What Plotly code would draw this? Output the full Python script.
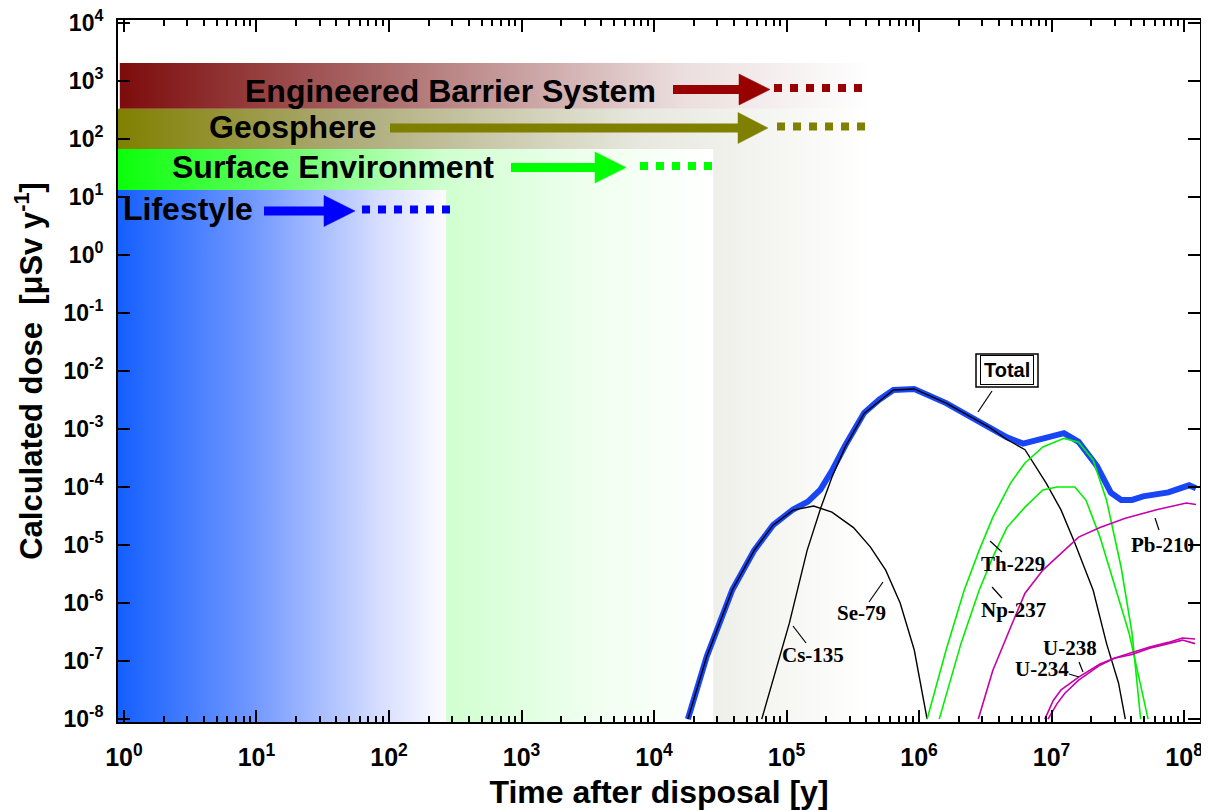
import plotly.graph_objects as go

# ---------------- data ----------------
total_t = [1.8e4, 2.5e4, 3.9e4, 5.7e4, 7.9e4, 1.12e5, 1.45e5, 1.8e5, 2.2e5, 2.77e5, 3.85e5,
           5.0e5, 6.4e5, 9.2e5, 1.6e6, 3.4e6, 4.6e6, 6.1e6, 8.6e6, 1.24e7, 1.6e7, 2.2e7,
           2.8e7, 3.35e7, 4.05e7, 4.9e7, 7.6e7, 1.09e8, 1.23e8]
total_d = [1e-8, 1.2e-7, 1.7e-6, 8.1e-6, 2.2e-5, 4.1e-5, 5.6e-5, 9.0e-5, 1.9e-4, 5.2e-4, 1.9e-3,
           3.2e-3, 4.7e-3, 4.9e-3, 2.8e-3, 1.07e-3, 7.2e-4, 5.6e-4, 6.9e-4, 8.5e-4, 6.0e-4, 2.3e-4,
           8.0e-5, 6.0e-5, 6.0e-5, 6.9e-5, 8.1e-5, 1.07e-4, 9.5e-5]

se79_t = [1.8e4, 2.5e4, 3.9e4, 5.7e4, 7.9e4, 1.12e5, 1.6e5, 2.2e5, 3.2e5, 4.3e5, 5.6e5,
          7.2e5, 9.2e5, 1.15e6]
se79_d = [1e-8, 1.2e-7, 1.7e-6, 8.1e-6, 2.2e-5, 4.0e-5, 4.7e-5, 3.7e-5, 2.0e-5, 9.2e-6, 3.7e-6,
          1.0e-6, 1.55e-7, 1.0e-8]

cs135_t = [6.5e4, 1.05e5, 1.43e5, 1.82e5, 2.2e5, 2.77e5, 3.85e5, 5.0e5, 6.4e5, 9.2e5, 1.6e6,
           3.4e6, 4.6e6, 6.3e6, 9.1e6, 1.18e7, 1.5e7, 2.06e7, 2.6e7, 3.2e7, 3.6e7]
cs135_d = [1e-8, 4.5e-7, 8.1e-6, 4.5e-5, 1.48e-4, 4.9e-4, 1.86e-3, 3.0e-3, 4.7e-3, 4.9e-3, 2.8e-3,
           1.07e-3, 6.6e-4, 4.4e-4, 1.17e-4, 4.0e-5, 1.07e-5, 1.66e-6, 2.0e-7, 4.2e-8, 1e-8]

th229_t = [1.15e6, 1.6e6, 2.19e6, 2.84e6, 3.6e6, 4.9e6, 6.3e6, 8.6e6, 1.24e7, 1.6e7, 2.06e7,
           2.6e7, 3.35e7, 4.05e7, 4.7e7]
th229_d = [1e-8, 1.55e-7, 1.66e-6, 8.1e-6, 3.0e-5, 1.17e-4, 2.6e-4, 4.9e-4, 6.9e-4, 5.9e-4, 2.9e-4,
           5.9e-5, 4.1e-6, 3.0e-7, 1e-8]

np237_t = [1.42e6, 2.07e6, 2.84e6, 3.6e6, 4.6e6, 6.3e6, 8.6e6, 1.1e7, 1.5e7, 1.82e7, 2.32e7,
           2.97e7, 3.85e7, 5.35e7]
np237_d = [1e-8, 2.0e-7, 1.66e-6, 6.2e-6, 2.0e-5, 4.5e-5, 8.9e-5, 1.0e-4, 1.0e-4, 5.9e-5, 1.37e-5,
           2.2e-6, 3.0e-7, 1e-8]

pb210_t = [2.8e6, 3.6e6, 4.9e6, 6.3e6, 8.6e6, 1.24e7, 1.6e7, 2.32e7, 3.6e7, 6.3e7, 1.04e8, 1.23e8]
pb210_d = [1e-8, 6.9e-8, 3.8e-7, 1.48e-6, 3.7e-6, 8.1e-6, 1.37e-5, 2.0e-5, 2.9e-5, 4.1e-5, 5.3e-5,
           5.0e-5]

u238_t = [8.9e6, 1.03e7, 1.18e7, 1.6e7, 2.32e7, 2.97e7, 4.05e7, 5.5e7, 7.6e7, 9.7e7, 1.21e8]
u238_d = [1e-8, 2.1e-8, 3.2e-8, 5.3e-8, 8.9e-8, 1.12e-7, 1.41e-7, 1.74e-7, 2.1e-7, 2.5e-7, 2.4e-7]

u234_t = [9.4e6, 1.1e7, 1.26e7, 1.6e7, 2.32e7, 2.97e7, 4.05e7, 5.5e7, 7.6e7, 9.7e7, 1.21e8]
u234_d = [1e-8, 1.85e-8, 2.8e-8, 4.7e-8, 8.5e-8, 1.12e-7, 1.3e-7, 1.67e-7, 2.0e-7, 2.3e-7, 2.0e-7]

# background bands: time extent and dose extent
band_names = ["Geosphere", "Engineered Barrier System", "Surface Environment", "Lifestyle"]
band_t_start = [0.89, 0.93, 0.89, 0.89]
band_t_end = [4.3e5, 4.3e5, 2.8e4, 270]
band_d_low = [1e-9, 330, 1e-9, 1e-9]
band_d_high = [330, 2040, 67, 13.2]

x_tickvals = [10 ** k for k in range(0, 9)]
x_ticktext = ["10<sup>%d</sup>" % k for k in range(0, 9)]
y_tickvals = [10 ** k for k in range(-8, 5)]
y_ticktext = ["10<sup>%d</sup>" % k for k in range(-8, 5)]

# ---------------- layout helpers ----------------
# the page body adds an 8px margin at top/left; the figure runs to the window's edges
OFF = 8
W, H = 1209 - OFF, 810 - OFF
PL, PR, PT, PB = 118, 1200, 20, 722          # plot box in window pixels
ML, MT = PL - OFF, PT - OFF
MR, MB = W - (PR - OFF), H - (PB - OFF)
PW, PH = PR - PL, PB - PT


def fx(p):
    return (p - PL) / PW


def fy(p):
    return (PB - p) / PH


band_scales = [
    [[0, "rgb(128,128,0)"], [0.3, "rgb(172,170,118)"], [0.7, "rgb(232,232,224)"], [1, "rgb(255,255,255)"]],
    [[0, "rgb(125,12,12)"], [0.35, "rgb(172,108,108)"], [0.75, "rgb(235,222,222)"], [1, "rgb(255,255,255)"]],
    [[0, "rgb(10,255,10)"], [0.25, "rgb(95,255,95)"], [0.55, "rgb(208,255,208)"], [0.8, "rgb(240,255,240)"], [1, "rgb(255,255,255)"]],
    [[0, "rgb(20,95,255)"], [0.4, "rgb(110,150,255)"], [0.8, "rgb(215,222,255)"], [1, "rgb(252,252,255)"]],
]

fig = go.Figure()

for i in range(len(band_names)):
    x0, x1 = band_t_start[i], band_t_end[i]
    y0, y1 = band_d_low[i], band_d_high[i]
    fig.add_trace(go.Scatter(
        x=[x0, x1, x1, x0, x0], y=[y0, y0, y1, y1, y0],
        mode="lines", fill="toself", line=dict(width=0),
        fillgradient=dict(type="horizontal", colorscale=band_scales[i]),
        hoverinfo="skip", showlegend=False, name=band_names[i]))

fig.add_trace(go.Scatter(x=total_t, y=total_d, mode="lines", name="Total",
                         line=dict(color="rgb(25,70,245)", width=6), showlegend=False))
for t, d, c, w, n in [
    (se79_t, se79_d, "black", 1.4, "Se-79"),
    (cs135_t, cs135_d, "black", 1.4, "Cs-135"),
    (th229_t, th229_d, "rgb(0,240,0)", 1.6, "Th-229"),
    (np237_t, np237_d, "rgb(0,240,0)", 1.6, "Np-237"),
    (pb210_t, pb210_d, "rgb(200,0,170)", 1.6, "Pb-210"),
    (u238_t, u238_d, "rgb(200,0,170)", 1.6, "U-238"),
    (u234_t, u234_d, "rgb(200,0,170)", 1.6, "U-234"),
]:
    fig.add_trace(go.Scatter(x=t, y=d, mode="lines", name=n,
                             line=dict(color=c, width=w), showlegend=False))

shapes = []
annotations = []

# band arrows: (color, label, label_x, label_y, shaft_x0, head_x0, head_x1, y, dots_x0, dots_x1)
arrows = [
    ("rgb(153,0,0)", "Engineered Barrier System", 450, 91, 673, 739, 770, 89.5, 774, 862),
    ("rgb(128,128,0)", "Geosphere", 292, 127, 390, 738, 768, 128, 777, 865),
    ("rgb(0,255,0)", "Surface Environment", 333, 167, 511, 595, 626, 167.5, 640, 713),
    ("rgb(0,0,255)", "Lifestyle", 188, 209, 264, 324, 355, 211, 362, 451),
]
for col, lab, lx, ly, s0, h0, h1, yy, d0, d1 in arrows:
    shapes.append(dict(type="line", xref="paper", yref="paper", x0=fx(s0), x1=fx(h0 + 2),
                       y0=fy(yy), y1=fy(yy), line=dict(color=col, width=9), layer="above"))
    path = "M %f,%f L %f,%f L %f,%f Z" % (fx(h0), fy(yy - 15.5), fx(h1), fy(yy), fx(h0), fy(yy + 15.5))
    shapes.append(dict(type="path", xref="paper", yref="paper", path=path,
                       fillcolor=col, line=dict(color=col, width=0.5), layer="above"))
    shapes.append(dict(type="line", xref="paper", yref="paper", x0=fx(d0), x1=fx(d1),
                       y0=fy(yy - 1.5), y1=fy(yy - 1.5), line=dict(color=col, width=8, dash="dot"),
                       layer="above"))
    annotations.append(dict(text=lab, xref="paper", yref="paper", x=fx(lx), y=fy(ly),
                            showarrow=False, xanchor="center", yanchor="middle",
                            font=dict(family="Liberation Sans", size=32, color="black", weight="bold")))

# nuclide labels and leader lines: (text, x, y, leader x0, y0, x1, y1)
labels = [
    ("Cs-135", 813, 655, 793, 626, 806, 643),
    ("Se-79", 861, 613, 883, 582, 869, 602),
    ("Th-229", 1013, 564, 990, 541, 1002, 552),
    ("Np-237", 1013, 610, 992, 587, 1002, 598),
    ("Pb-210", 1162, 545, 1155, 518, 1159, 530),
    ("U-238", 1070, 648, 1079, 662, 1083, 672),
    ("U-234", 1042, 669, 1069, 674, 1079, 677),
]
for lab, lx, ly, a0, b0, a1, b1 in labels:
    annotations.append(dict(text=lab, xref="paper", yref="paper", x=fx(lx), y=fy(ly),
                            showarrow=False, xanchor="center", yanchor="middle",
                            font=dict(family="Liberation Serif", size=21, color="black", weight="bold")))
    shapes.append(dict(type="line", xref="paper", yref="paper", x0=fx(a0), y0=fy(b0),
                       x1=fx(a1), y1=fy(b1), line=dict(color="black", width=1.2), layer="above"))

# Total label with double border
annotations.append(dict(text="Total", xref="paper", yref="paper", x=fx(1007), y=fy(370),
                        showarrow=False, xanchor="center", yanchor="middle",
                        bgcolor="white", bordercolor="black", borderwidth=1, borderpad=3,
                        font=dict(family="Liberation Sans", size=20, color="black", weight="bold")))
shapes.append(dict(type="rect", xref="paper", yref="paper", x0=fx(976), x1=fx(1038),
                   y0=fy(387), y1=fy(354), line=dict(color="black", width=1.5), layer="above"))
shapes.append(dict(type="line", xref="paper", yref="paper", x0=fx(992), y0=fy(391),
                   x1=fx(978), y1=fy(412), line=dict(color="black", width=1.2), layer="above"))

minor_x = [m * 10 ** k for k in range(0, 9) for m in range(2, 10)]

fig.update_layout(
    width=W, height=H,
    margin=dict(l=ML, r=MR, t=MT, b=MB, autoexpand=False),
    paper_bgcolor="white", plot_bgcolor="white",
    shapes=shapes, annotations=annotations,
    font=dict(family="Liberation Sans", color="black"),
    xaxis=dict(type="log", range=[-0.045, 8.12], showgrid=False, zeroline=False,
               showline=True, linecolor="black", linewidth=2, mirror="ticks",
               ticks="inside", ticklen=12, tickwidth=1.5, tickcolor="black",
               tickvals=x_tickvals, ticktext=x_ticktext, ticklabelstandoff=12,
               ticklabeloverflow="allow",
               tickfont=dict(family="Liberation Sans", size=25, color="black", weight="bold"),
               minor=dict(tickvals=minor_x, ticks="inside", ticklen=6, tickwidth=1.5,
                          tickcolor="black", showgrid=False),
               title=dict(text="Time after disposal [y]", standoff=16,
                          font=dict(family="Liberation Sans", size=32, color="black", weight="bold"))),
    yaxis=dict(type="log", range=[-8.05, 4.05], showgrid=False, zeroline=False,
               showline=True, linecolor="black", linewidth=2, mirror="ticks",
               ticks="inside", ticklen=12, tickwidth=1.5, tickcolor="black",
               tickvals=y_tickvals, ticktext=y_ticktext, ticklabelstandoff=8,
               ticklabeloverflow="allow",
               tickfont=dict(family="Liberation Sans", size=23, color="black", weight="bold"),
               title=dict(text="Calculated dose\u00a0\u00a0[\u03bcSv y<sup>-1</sup>]", standoff=12,
                          font=dict(family="Liberation Sans", size=31, color="black", weight="bold"))),
)

fig.write_html("out.html")
